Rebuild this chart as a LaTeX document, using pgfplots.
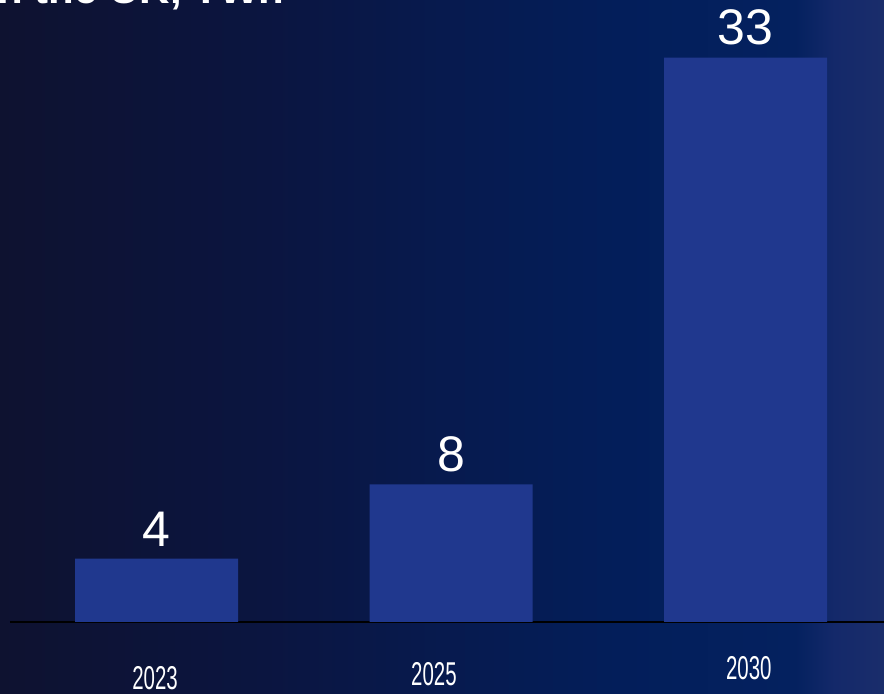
\documentclass[border=0pt]{standalone}
\usepackage{pgfplots}
\pgfplotsset{compat=1.18}
\usepackage{fontspec}
\setmainfont{Liberation Sans}
\usepackage{graphicx}
\definecolor{barblue}{HTML}{20388E}
\definecolor{bgA}{HTML}{0E1230}
\definecolor{bgB}{HTML}{0B1540}
\definecolor{bgC}{HTML}{071A4E}
\definecolor{bgD}{HTML}{031E5A}
\definecolor{bgE}{HTML}{04215F}
\definecolor{bgF}{HTML}{14296A}
\definecolor{bgG}{HTML}{1A2D6B}
\pgfdeclarehorizontalshading{bgshade}{100bp}{color(0bp)=(bgA); color(25bp)=(bgA); color(40bp)=(bgB); color(50bp)=(bgC); color(60bp)=(bgD); color(70bp)=(bgE); color(72.2bp)=(bgF); color(75bp)=(bgG); color(100bp)=(bgG)}
\begin{document}
\begin{tikzpicture}
\useasboundingbox (0,0) rectangle (442pt,347pt);
\clip (0,0) rectangle (442pt,347pt);
\fill[shading=bgshade] (0,0) rectangle (442pt,347pt);
\node[anchor=base east, text=white, font=\fontsize{21}{25}\selectfont\bfseries, inner sep=0pt] at (142.5pt,345pt) {Data centre electricity demand in the UK, TWh};
\begin{axis}[
  at={(5pt,36pt)}, anchor=south west,
  scale only axis, width=437pt, height=311pt,
  xmin=-0.4975, xmax=2.470, ymin=0, ymax=36.37,
  axis x line=bottom, axis y line=none,
  x axis line style={-, black, line width=1pt},
  ybar, bar width=0.5535, bar shift=0pt,
  xtick={-0.005,0.942,2.011},
  xticklabels={{\raisebox{-1.6pt}{\scalebox{0.62}[1]{2023}}},{\scalebox{0.62}[1]{2025}},{\raisebox{3.3pt}{\scalebox{0.62}[1]{2030}}}},
  major tick length=0pt,
  xticklabel style={text=white, font=\fontsize{16.5}{19}\selectfont, anchor=base, yshift=-32pt, inner sep=0pt},
  ytick=\empty,
  /pgf/number format/assume math mode=true,
  point meta=explicit,
  nodes near coords={\pgfmathprintnumber{\pgfplotspointmeta}},
  nodes near coords style={text=white, font=\fontsize{25}{30}\selectfont, anchor=south, inner sep=0pt, yshift=6pt},
  clip=false,
]
\addplot[fill=barblue, draw=none] coordinates {(0,3.7) [4] (1,8.05) [8] (2,33) [33]};
\end{axis}
\end{tikzpicture}
\end{document}
